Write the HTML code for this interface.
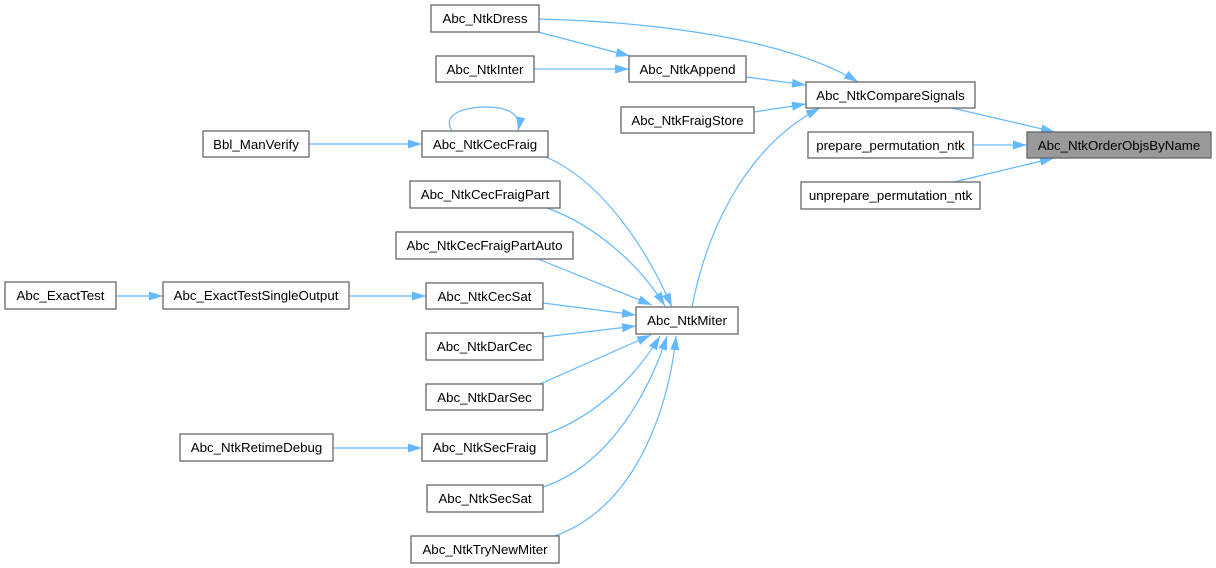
<!DOCTYPE html>
<html><head><meta charset="utf-8"><style>
html,body{margin:0;padding:0;background:#fff;}
svg{display:block;}
text{font-family:"Liberation Sans",Arial,sans-serif;font-size:13.3px;fill:#000;}
.n{fill:#fff;stroke:#666;stroke-width:1.3;}
.e{fill:none;stroke:#63b8ff;stroke-width:1.2;}
</style></head><body>
<svg width="1216" height="568" viewBox="0 0 1216 568" xmlns="http://www.w3.org/2000/svg">
<defs>
<marker id="a" markerWidth="15" markerHeight="11" refX="14" refY="5.5" orient="auto" markerUnits="userSpaceOnUse">
<path d="M0,1 L14,5.5 L0,10 z" fill="#63b8ff"/>
</marker>
</defs>

<!-- edges -->
<path class="e" marker-end="url(#a)" d="M539,19 C660,22 790,40 858,82"/>
<path class="e" marker-end="url(#a)" d="M538,32 L630,56"/>
<path class="e" marker-end="url(#a)" d="M534,69 L629,69"/>
<path class="e" marker-end="url(#a)" d="M746,77 L806,85"/>
<path class="e" marker-end="url(#a)" d="M754,112 L806,104"/>
<path class="e" marker-end="url(#a)" d="M692,307 C705,240 740,150 820,108"/>
<path class="e" marker-end="url(#a)" d="M952,108 L1055,132"/>
<path class="e" marker-end="url(#a)" d="M973,145 L1027,145"/>
<path class="e" marker-end="url(#a)" d="M954,182 L1054,158"/>

<path class="e" marker-end="url(#a)" d="M452,131 C440,112 470,107 485,107 C505,107 522,112 518,131"/>
<path class="e" marker-end="url(#a)" d="M309,144 L422,144"/>
<path class="e" marker-end="url(#a)" d="M546,157 C600,180 645,245 672,307"/>
<path class="e" marker-end="url(#a)" d="M547,208 C595,225 640,265 665,306"/>
<path class="e" marker-end="url(#a)" d="M538,259 L652,305"/>
<path class="e" marker-end="url(#a)" d="M543,303 L636,315"/>
<path class="e" marker-end="url(#a)" d="M543,337 L636,326"/>
<path class="e" marker-end="url(#a)" d="M540,384 L651,335"/>
<path class="e" marker-end="url(#a)" d="M546,434 C600,415 640,370 660,336"/>
<path class="e" marker-end="url(#a)" d="M543,487 C610,465 650,390 667,336"/>
<path class="e" marker-end="url(#a)" d="M555,536 C640,505 670,400 676,336"/>
<path class="e" marker-end="url(#a)" d="M116,296 L163,296"/>
<path class="e" marker-end="url(#a)" d="M349,296 L426,296"/>
<path class="e" marker-end="url(#a)" d="M333,448 L422,448"/>

<!-- nodes -->
<rect class="n" x="431" y="5" width="108" height="27"/><text x="485" y="23" text-anchor="middle">Abc_NtkDress</text>
<rect class="n" x="436" y="56" width="98" height="26"/><text x="485" y="74" text-anchor="middle">Abc_NtkInter</text>
<rect class="n" x="629" y="56" width="117" height="26"/><text x="687.5" y="74" text-anchor="middle">Abc_NtkAppend</text>
<rect class="n" x="621" y="107" width="133" height="26"/><text x="687.5" y="125" text-anchor="middle">Abc_NtkFraigStore</text>
<rect class="n" x="806" y="82" width="169" height="26"/><text x="890.5" y="100" text-anchor="middle">Abc_NtkCompareSignals</text>
<rect class="n" x="808" y="132" width="165" height="26"/><text x="890.5" y="150" text-anchor="middle">prepare_permutation_ntk</text>
<rect class="n" x="801" y="182" width="179" height="27"/><text x="890.5" y="200" text-anchor="middle">unprepare_permutation_ntk</text>
<rect x="1027" y="132" width="184" height="26" fill="#999" stroke="#666" stroke-width="1.3"/><text x="1119" y="150" text-anchor="middle">Abc_NtkOrderObjsByName</text>

<rect class="n" x="203" y="131" width="106" height="26"/><text x="256" y="149" text-anchor="middle">Bbl_ManVerify</text>
<rect class="n" x="422" y="131" width="126" height="26"/><text x="485" y="149" text-anchor="middle">Abc_NtkCecFraig</text>
<rect class="n" x="410" y="181" width="150" height="27"/><text x="485" y="199" text-anchor="middle">Abc_NtkCecFraigPart</text>
<rect class="n" x="396" y="232" width="177" height="27"/><text x="484.5" y="250" text-anchor="middle">Abc_NtkCecFraigPartAuto</text>
<rect class="n" x="5" y="282" width="111" height="27"/><text x="60.5" y="300" text-anchor="middle">Abc_ExactTest</text>
<rect class="n" x="163" y="282" width="186" height="27"/><text x="256" y="300" text-anchor="middle">Abc_ExactTestSingleOutput</text>
<rect class="n" x="426" y="283" width="117" height="26"/><text x="484.5" y="301" text-anchor="middle">Abc_NtkCecSat</text>
<rect class="n" x="636" y="307" width="102" height="27"/><text x="687" y="325" text-anchor="middle">Abc_NtkMiter</text>
<rect class="n" x="426" y="333" width="117" height="27"/><text x="484.5" y="351" text-anchor="middle">Abc_NtkDarCec</text>
<rect class="n" x="426" y="384" width="117" height="26"/><text x="484.5" y="402" text-anchor="middle">Abc_NtkDarSec</text>
<rect class="n" x="180" y="434" width="153" height="27"/><text x="256.5" y="452" text-anchor="middle">Abc_NtkRetimeDebug</text>
<rect class="n" x="422" y="434" width="125" height="27"/><text x="484.5" y="452" text-anchor="middle">Abc_NtkSecFraig</text>
<rect class="n" x="427" y="485" width="116" height="27"/><text x="485" y="503" text-anchor="middle">Abc_NtkSecSat</text>
<rect class="n" x="411" y="536" width="148" height="27"/><text x="485" y="554" text-anchor="middle">Abc_NtkTryNewMiter</text>
</svg>
</body></html>
